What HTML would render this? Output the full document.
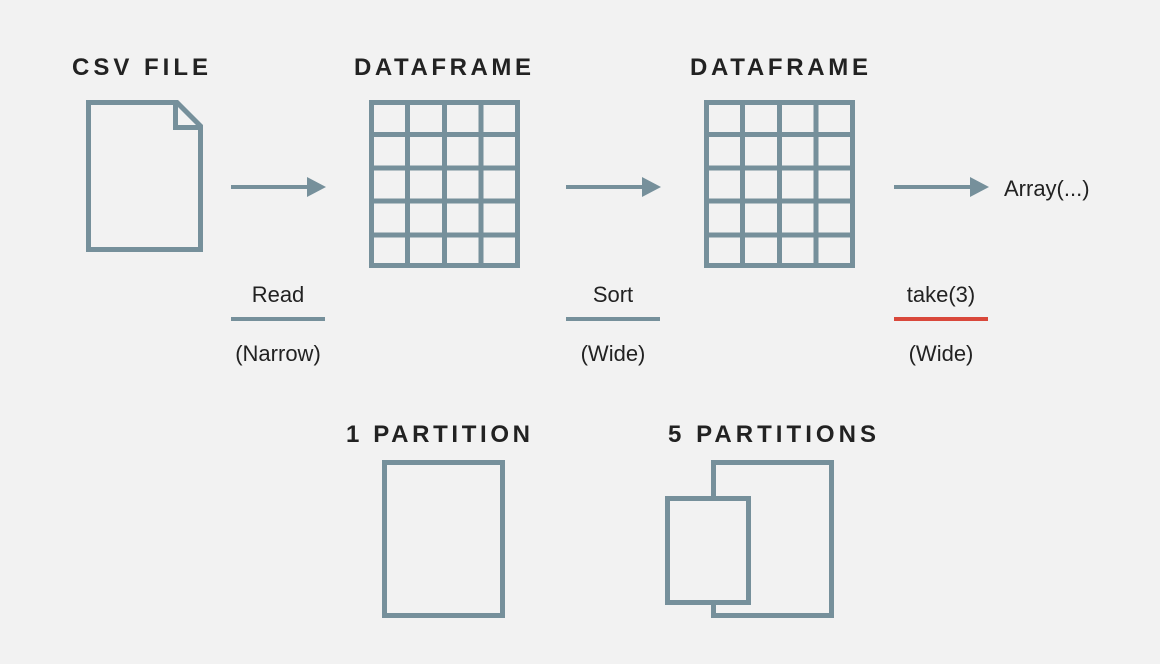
<!DOCTYPE html>
<html><head><meta charset="utf-8"><style>
html,body{margin:0;padding:0;background:#f2f2f2;}
svg{display:block}
.t{font-family:"Liberation Sans",sans-serif;font-weight:bold;font-size:24px;fill:#222;}
.l{font-family:"Liberation Sans",sans-serif;font-size:22px;fill:#222;}
.s{fill:none;stroke:#76909b;stroke-width:5;}
</style></head><body>
<svg width="1160" height="664" viewBox="0 0 1160 664">
<rect width="1160" height="664" fill="#f2f2f2"/>
<text class="t" x="72" y="75" textLength="136" lengthAdjust="spacing">CSV FILE</text>
<text class="t" x="354" y="75" textLength="177" lengthAdjust="spacing">DATAFRAME</text>
<text class="t" x="690" y="75" textLength="178" lengthAdjust="spacing">DATAFRAME</text>
<g>
<path class="s" d="M88.5 102.5 H177 L200.5 126 V249.5 H88.5 Z"/>
<path class="s" d="M175.5 102.5 V127.5 H200.5"/>
</g>
<g id="grid1"></g>
<g id="grid2"></g>
<g><line x1="231" y1="187" x2="310" y2="187" stroke="#76909b" stroke-width="4"/><polygon points="307,177 326,187 307,197" fill="#76909b"/></g>
<g><line x1="566" y1="187" x2="645" y2="187" stroke="#76909b" stroke-width="4"/><polygon points="642,177 661,187 642,197" fill="#76909b"/></g>
<g><line x1="894" y1="187" x2="973" y2="187" stroke="#76909b" stroke-width="4"/><polygon points="970,177 989,187 970,197" fill="#76909b"/></g>
<text class="l" x="1004" y="196">Array(...)</text>
<text class="l" x="278" y="302" text-anchor="middle">Read</text>
<rect x="231" y="317" width="94" height="4" fill="#76909b"/>
<text class="l" x="278" y="361" text-anchor="middle">(Narrow)</text>
<text class="l" x="613" y="302" text-anchor="middle">Sort</text>
<rect x="566" y="317" width="94" height="4" fill="#76909b"/>
<text class="l" x="613" y="361" text-anchor="middle">(Wide)</text>
<text class="l" x="941" y="302" text-anchor="middle">take(3)</text>
<rect x="894" y="317" width="94" height="4" fill="#d9483b"/>
<text class="l" x="941" y="361" text-anchor="middle">(Wide)</text>
<text class="t" x="346" y="442" textLength="184" lengthAdjust="spacing">1 PARTITION</text>
<text class="t" x="668" y="442" textLength="208" lengthAdjust="spacing">5 PARTITIONS</text>
<rect class="s" x="384.5" y="462.5" width="118" height="153"/>
<g>
<rect class="s" x="713.5" y="462.5" width="118" height="153"/>
<rect x="667" y="498" width="82" height="104" fill="#f2f2f2"/>
<rect class="s" x="667.5" y="498.5" width="81" height="104"/>
</g>
</svg>
<script>
const colX=[371.5,407.5,444.5,481,517.5];
const rowY=[102.5,134.5,168,201,235,265.5];
function grid(id,dx){
 const g=document.getElementById(id);
 const ns='http://www.w3.org/2000/svg';
 colX.forEach(x=>{const l=document.createElementNS(ns,'line');
  l.setAttribute('x1',x+dx);l.setAttribute('x2',x+dx);l.setAttribute('y1',100);l.setAttribute('y2',268);
  l.setAttribute('stroke','#76909b');l.setAttribute('stroke-width',5);
  
  
  g.appendChild(l);});
 rowY.forEach(y=>{const l=document.createElementNS(ns,'line');
  l.setAttribute('x1',369+dx);l.setAttribute('x2',520+dx);l.setAttribute('y1',y);l.setAttribute('y2',y);
  l.setAttribute('stroke','#76909b');l.setAttribute('stroke-width',5);
  
  
  g.appendChild(l);});
}
grid('grid1',0);grid('grid2',335);
</script>
</body></html>
